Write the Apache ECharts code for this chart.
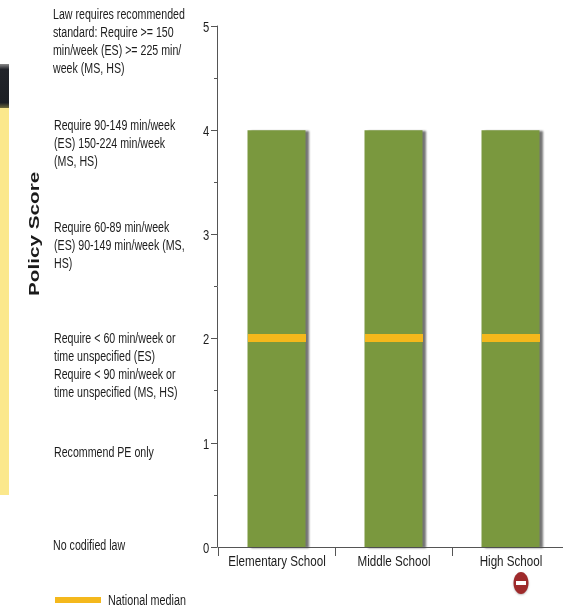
<!DOCTYPE html>
<html>
<head>
<meta charset="utf-8">
<style>html,body{margin:0;padding:0;background:#fff}#chart{width:563px;height:610px}</style>
<script src="https://cdn.jsdelivr.net/npm/echarts@6/dist/echarts.min.js"></script>
</head>
<body>
<div id="chart"></div>
<script>
const categories = ['Elementary School', 'Middle School', 'High School'];
const policyScores = [4, 4, 4];
const nationalMedian = [2, 2, 2];
const scoreTicks = [0, 1, 2, 3, 4, 5];
const scoreDescriptions = [
  { score: 5, lines: ['Law requires recommended', 'standard: Require >= 150', 'min/week (ES) >= 225 min/', 'week (MS, HS)'] },
  { score: 4, lines: ['Require 90-149 min/week', '(ES) 150-224 min/week', '(MS, HS)'] },
  { score: 3, lines: ['Require 60-89 min/week', '(ES) 90-149 min/week (MS,', 'HS)'] },
  { score: 2, lines: ['Require < 60 min/week or', 'time unspecified (ES)', 'Require < 90 min/week or', 'time unspecified (MS, HS)'] },
  { score: 1, lines: ['Recommend PE only'] },
  { score: 0, lines: ['No codified law'] }
];
const descriptionCentres = { 5: 42, 4: 144, 3: 246, 2: 366, 1: 453, 0: 546 };

const labelFont = '14px "Liberation Sans", sans-serif';
const textColor = '#1c1c1c';
const axisColor = '#555555';
const medianColor = '#f4b81c';

const chart = echarts.init(document.getElementById('chart'), null, { renderer: 'canvas' });

// Condensed text: the installed sans is squeezed horizontally to the narrow face
const descriptionText = scoreDescriptions.map(d => ({
  type: 'text',
  x: d.score === 5 || d.score === 0 ? 53 : 54,
  y: descriptionCentres[d.score] - d.lines.length * 9,
  scaleX: 0.76,
  style: {
    text: d.lines.join('\n'),
    font: labelFont,
    lineHeight: 18,
    fill: textColor
  }
}));

chart.setOption({
  animation: false,
  backgroundColor: '#ffffff',
  grid: { left: 218, right: -6, top: 26, bottom: 63, containLabel: false, outerBoundsMode: 'none' },
  xAxis: {
    type: 'category',
    data: categories,
    axisLine: { lineStyle: { color: axisColor, width: 1 } },
    axisTick: { show: true, interval: 0, alignWithLabel: false, length: 9, lineStyle: { color: axisColor } },
    axisLabel: { show: false }
  },
  yAxis: {
    type: 'value',
    min: 0,
    max: 5,
    interval: 1,
    offset: 1,
    splitLine: { show: false },
    axisLine: { show: true, lineStyle: { color: axisColor, width: 1 } },
    axisTick: { show: true, length: 6, lineStyle: { color: axisColor } },
    minorTick: { show: true, splitNumber: 2, length: 3, lineStyle: { color: axisColor } },
    axisLabel: { show: false }
  },
  series: [
    {
      name: 'Policy score',
      type: 'bar',
      data: policyScores,
      barWidth: 58,
      z: 1,
      itemStyle: {
        color: '#7a983e',
        shadowColor: 'rgba(70,70,70,0.75)',
        shadowBlur: 2,
        shadowOffsetX: 3,
        shadowOffsetY: 1
      }
    },
    {
      name: 'National median',
      type: 'custom',
      data: nationalMedian.map((v, i) => [i, v]),
      z: 3,
      renderItem(params, api) {
        const c = api.coord([api.value(0), api.value(1)]);
        return {
          type: 'rect',
          shape: { x: Math.round(c[0] - 29), y: Math.round(c[1] - 4.5), width: 58, height: 8 },
          style: { fill: medianColor }
        };
      }
    },
    {
      // category labels placed through the axis scale
      name: 'Category labels',
      type: 'custom',
      silent: true,
      data: categories.map((c, i) => [i, 0]),
      z: 4,
      renderItem(params, api) {
        const c = api.coord([api.value(0), api.value(1)]);
        return {
          type: 'text',
          x: c[0] + 0.5,
          y: c[1] + 15,
          scaleX: 0.83,
          style: {
            text: categories[params.dataIndex],
            font: labelFont,
            fill: textColor,
            align: 'center',
            verticalAlign: 'middle'
          }
        };
      }
    },
    {
      // score tick labels placed through the axis scale
      name: 'Score labels',
      type: 'custom',
      silent: true,
      data: scoreTicks.map(v => [0, v]),
      z: 4,
      renderItem(params, api) {
        const c = api.coord([api.value(0), api.value(1)]);
        return {
          type: 'text',
          x: params.coordSys.x - 12,
          y: c[1] + 2,
          scaleX: 0.8,
          style: {
            text: String(api.value(1)),
            font: labelFont,
            fill: textColor,
            align: 'center',
            verticalAlign: 'middle'
          }
        };
      }
    }
  ],
  graphic: [
    // cropped sidebar along the left edge
    { type: 'rect', x: 0, y: 107, shape: { width: 9, height: 388 }, style: { fill: '#fbe88c' } },
    {
      type: 'rect', x: 0, y: 64, shape: { width: 9, height: 44 },
      style: {
        fill: new echarts.graphic.LinearGradient(0, 0, 0, 1, [
          { offset: 0, color: '#8a8a8a' },
          { offset: 0.12, color: '#22242a' },
          { offset: 0.88, color: '#1d1f24' },
          { offset: 1, color: '#6f6a3a' }
        ])
      }
    },
    // rotated axis title
    {
      type: 'text',
      x: 27,
      y: 296,
      rotation: Math.PI / 2,
      scaleX: 1.38,
      style: {
        text: 'Policy Score',
        font: 'bold 15px "Liberation Sans", sans-serif',
        fill: '#1a1a1a'
      }
    },
    ...descriptionText,
    // median key
    { type: 'rect', x: 55, y: 597, shape: { width: 46, height: 6 }, style: { fill: medianColor } },
    {
      type: 'text',
      x: 108,
      y: 601,
      scaleX: 0.77,
      style: { text: 'National median', font: labelFont, fill: textColor, verticalAlign: 'middle' }
    },
    // "below median" badge under High School
    {
      type: 'ellipse',
      shape: { cx: 521, cy: 583, rx: 7.5, ry: 11 },
      style: { fill: '#9e2a2b', shadowColor: 'rgba(0,0,0,0.25)', shadowBlur: 2, shadowOffsetY: 1 }
    },
    { type: 'rect', shape: { x: 516, y: 581, width: 10, height: 4 }, style: { fill: '#ffffff' } }
  ]
});
</script>
</body>
</html>
